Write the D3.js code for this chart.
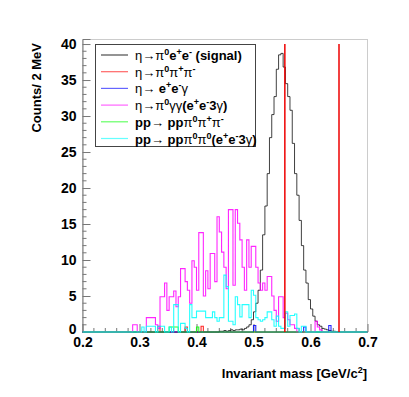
<!DOCTYPE html>
<html>
<head>
<meta charset="UTF-8">
<title>Invariant mass</title>
<script src="https://d3js.org/d3.v7.min.js"></script>
<style>
  body { margin: 0; padding: 0; background: #fff; }
  svg { display: block; font-family: "Liberation Sans", Arial, sans-serif; }
  .tick text { font-size: 14px; font-weight: bold; fill: #000; }
</style>
</head>
<body>
<svg id="chart" width="409" height="397"></svg>
<script>
// histogram binning (GeV)
const binWidth = 0.004;
const massRange = [0.2, 0.7];

// eta -> pi0 e+ e- (signal), counts per bin starting at signalStart
const signalStart = 0.44;
const signalCounts = [0.1, 0.1, 0.2, 0.1, 0.2, 0.3, 0.2, 0.3, 0.3, 0.4, 0.3, 0.5, 0.7, 1.0, 1.7, 2.8,
  4.0, 5.8, 8.6, 13.5, 17.5, 22, 27, 30.2, 32.7, 36.5, 38.5, 38.7, 36.8, 34.5, 32.7, 30.8,
  26.2, 22, 19, 15.5, 12, 8.6, 6.8, 4.5, 3.2, 2.2, 1.5, 1.0, 0.8, 0.5, 0.4, 0.3, 0.2, 0.1, 0.1];

// eta -> pi0 pi+ pi-
const pipiStart = 0.332;
const pipiCounts = [0.8, 0, 0, 0, 0, 0, 0, 0, 0, 0, 0, 0, 0.7, 0, 0, 0, 0, 0, 0, 0.8];

// eta -> e+ e- gamma
const eegStart = 0.5;
const eegCounts = [0.9, 0, 0, 0, 0, 0, 0, 0, 0, 0, 0, 0, 0, 0, 0, 0, 0, 0, 0, 0, 0, 0, 0.7,
  0, 0, 0, 0, 0, 0, 0, 0, 0, 0, 0.9];

// eta -> pi0 gamma gamma
const ggStart = 0.288;
const ggCounts = [1, 1, 0, 0, 0, 0, 2, 2, 2, 2, 1, 0.5, 4.9, 4.9, 6.8, 3,
  4.9, 4.9, 5.7, 3.5, 4.9, 8.8, 8.8, 7, 5.8, 4, 9.9, 9, 5.8, 13.8, 13.8, 5,
  8.5, 6, 10.9, 10.9, 7, 16, 13.9, 11.1, 9, 6, 17, 17, 6.5, 17, 15.1, 12.8,
  9, 5.8, 12.8, 9, 11.9, 11.9, 9, 6.8, 5.8, 6.8, 5.8, 7.7, 7.7, 5, 3, 1.5,
  4.9, 4.9, 2, 2.6, 1.7, 1, 1, 0.5, 0, 0, 0, 0, 0, 0, 0, 0, 1.5, 0.7, 0.3];

// pp -> pp pi0 pi+ pi-
const ppPipiStart = 0.352;
const ppPipiCounts = [0.7, 0.7, 0.7, 0.7, 0, 0, 0, 0, 0, 0, 0, 0, 0.7];

// pp -> pp pi0 pi0
const ppPi0Start = 0.304;
const ppPi0Counts = [0.7, 0, 0.8, 0.8, 0.8, 0.8, 0, 0.8, 0.8, 0.8, 0, 0, 0.7, 0, 3.8, 3.8,
  0, 1.2, 1.2, 0.5, 0, 3.8, 2, 2, 2.9, 2.9, 2.9, 2.9, 2, 2, 2, 2.8,
  2, 1.5, 2, 2, 7.9, 6.3, 1.5, 1.5, 1, 4.9, 3.8, 2.1, 3.8, 3.8, 3.8, 2,
  5.8, 5.1, 2, 1.7, 1.5, 1.7, 2, 2.8, 2.8, 1.7, 0.8, 2.2, 0.8, 0.5, 0.5, 2.8,
  0.8, 2.3, 2.3, 2.5, 0.5, 0, 0.8, 0.8];

// vertical cut lines
const cutLines = [0.555, 0.65];
const cutTop = 40;

const xTicks = [0.2, 0.3, 0.4, 0.5, 0.6, 0.7];
const yTicks = [0, 5, 10, 15, 20, 25, 30, 35, 40];

const seriesNames = ["signal", "pipi", "eeg", "gg", "ppPipi", "ppPi0"];
const seriesColors = ["#000000", "#ff0000", "#0000ff", "#ff00ff", "#00ff00", "#00ffff"];

// legend labels: [text, kind] with kind g = greek (plain), b = bold, s = superscript
const legendLabels = [
  [["η→π", "g"], ["0", "s"], ["e", "b"], ["+", "s"], ["e", "b"], ["-", "s"], [" (signal)", "b"]],
  [["η→π", "g"], ["0", "s"], ["π", "g"], ["+", "s"], ["π", "g"], ["-", "s"]],
  [["η→ ", "g"], ["e", "b"], ["+", "s"], ["e", "b"], ["-", "s"], ["γ", "g"]],
  [["η→π", "g"], ["0", "s"], ["γγ", "g"], ["(e", "b"], ["+", "s"], ["e", "b"], ["-", "s"], ["3", "b"], ["γ", "g"], [")", "b"]],
  [["pp", "b"], ["→ ", "g"], ["pp", "b"], ["π", "g"], ["0", "s"], ["π", "g"], ["+", "s"], ["π", "g"], ["-", "s"]],
  [["pp", "b"], ["→ ", "g"], ["pp", "b"], ["π", "g"], ["0", "s"], ["π", "g"], ["0", "s"], ["(e", "b"], ["+", "s"], ["e", "b"], ["-", "s"], ["3", "b"], ["γ", "g"], [")", "b"]]
];

const seriesData = [
  [signalStart, signalCounts],
  [pipiStart, pipiCounts],
  [eegStart, eegCounts],
  [ggStart, ggCounts],
  [ppPipiStart, ppPipiCounts],
  [ppPi0Start, ppPi0Counts]
];

const nBins = Math.round((massRange[1] - massRange[0]) / binWidth);

// expand each series to full binning
function fullBins(start, counts) {
  const bins = new Array(nBins).fill(0);
  const off = Math.round((start - massRange[0]) / binWidth);
  counts.forEach((c, i) => { if (off + i < nBins) bins[off + i] = c; });
  return bins.map((c, i) => ({ lo: massRange[0] + i * binWidth, c }));
}

const svg = d3.select("#chart");
const plotLeft = 82.5, plotRight = 367.5, plotTop = 39, plotBottom = 332;

const x = d3.scaleLinear().domain(massRange).range([plotLeft, plotRight]);
const y = d3.scaleLinear().domain([0, 40.7]).range([plotBottom, plotTop]);

// frame
svg.append("rect")
  .attr("x", plotLeft).attr("y", plotTop + 0.5)
  .attr("width", plotRight - plotLeft).attr("height", plotBottom - plotTop)
  .attr("fill", "none").attr("stroke", "#cccccc");

// minor ticks
const xMinor = d3.range(0.22, 0.7, 0.02).filter(v => Math.abs(v * 10 - Math.round(v * 10)) > 1e-6);
svg.append("g").selectAll("line").data(xMinor).join("line")
  .attr("x1", d => x(d)).attr("x2", d => x(d))
  .attr("y1", plotBottom).attr("y2", plotBottom - 4)
  .attr("stroke", "#777");
const yMinor = d3.range(1, 41).filter(v => v % 5 !== 0);
svg.append("g").selectAll("line").data(yMinor).join("line")
  .attr("x1", plotLeft).attr("x2", plotLeft + 4)
  .attr("y1", d => y(d)).attr("y2", d => y(d))
  .attr("stroke", "#777");

// axes
const xAxis = svg.append("g")
  .attr("transform", `translate(0,${plotBottom})`)
  .call(d3.axisBottom(x).tickValues(xTicks).tickFormat(d3.format(".1f")).tickSize(-8).tickPadding(5));
const yAxis = svg.append("g")
  .attr("transform", `translate(${plotLeft},0)`)
  .call(d3.axisLeft(y).tickValues(yTicks).tickSize(-8).tickPadding(6));
[xAxis, yAxis].forEach(g => {
  g.selectAll("path, line").attr("stroke", "#777");
  g.attr("font-family", null).attr("font-size", null);
});
xAxis.select(".domain").remove();
// lift the "0" a little so it only touches "0.2" as in the original
yAxis.selectAll(".tick text").filter(d => d === 0).attr("dy", "0.1em");

// histograms
const step = d3.line().x(d => x(d[0])).y(d => y(d[1])).curve(d3.curveStepAfter);
seriesData.forEach(([start, counts], i) => {
  const bins = fullBins(start, counts);
  const pts = bins.map(b => [b.lo, b.c]);
  pts.push([massRange[1], bins[bins.length - 1].c]);
  svg.append("path")
    .attr("class", "hist " + seriesNames[i])
    .attr("d", step(pts))
    .attr("fill", "none")
    .attr("stroke", seriesColors[i])
    .attr("stroke-width", i === 0 ? 1 : 1.1)
    .attr("opacity", i === 0 ? 0.75 : 0.85);
});

// cut lines
svg.append("g").selectAll("line").data(cutLines).join("line")
  .attr("x1", d => x(d)).attr("x2", d => x(d))
  .attr("y1", y(0)).attr("y2", y(cutTop))
  .attr("stroke", "#ee0000").attr("stroke-width", 1.5);

// legend
const legend = svg.append("g");
legend.append("rect")
  .attr("x", 95.5).attr("y", 44.5).attr("width", 160).attr("height", 102)
  .attr("fill", "#fff").attr("stroke", "#444");
legendLabels.forEach((segs, i) => {
  const ry = 55 + i * 16.7;
  legend.append("line")
    .attr("x1", 101).attr("x2", 128).attr("y1", ry).attr("y2", ry)
    .attr("stroke", seriesColors[i]).attr("stroke-width", 1.2)
    .attr("opacity", i === 0 ? 0.7 : 0.6);
  const t = legend.append("text")
    .attr("x", 135).attr("y", ry + 5)
    .attr("font-size", 13).attr("fill", "#000");
  let raised = false;
  segs.forEach(([txt, kind]) => {
    const ts = t.append("tspan").text(txt);
    if (kind === "s") {
      ts.attr("font-size", 9).attr("font-weight", "bold");
      if (!raised) ts.attr("dy", -5);
      raised = true;
    } else {
      if (raised) ts.attr("dy", 5);
      raised = false;
      ts.attr("font-weight", kind === "b" ? "bold" : "normal");
    }
  });
});

// axis titles
svg.append("text")
  .attr("transform", "translate(41,43) rotate(-90)")
  .attr("text-anchor", "end")
  .attr("font-size", 13).attr("font-weight", "bold")
  .text("Counts/ 2 MeV");

const xt = svg.append("text")
  .attr("x", 367).attr("y", 378)
  .attr("text-anchor", "end")
  .attr("font-size", 13).attr("font-weight", "bold");
xt.append("tspan").text("Invariant mass [GeV/c");
xt.append("tspan").attr("font-size", 9).attr("dy", -5).text("2");
xt.append("tspan").attr("dy", 5).text("]");
</script>
</body>
</html>
